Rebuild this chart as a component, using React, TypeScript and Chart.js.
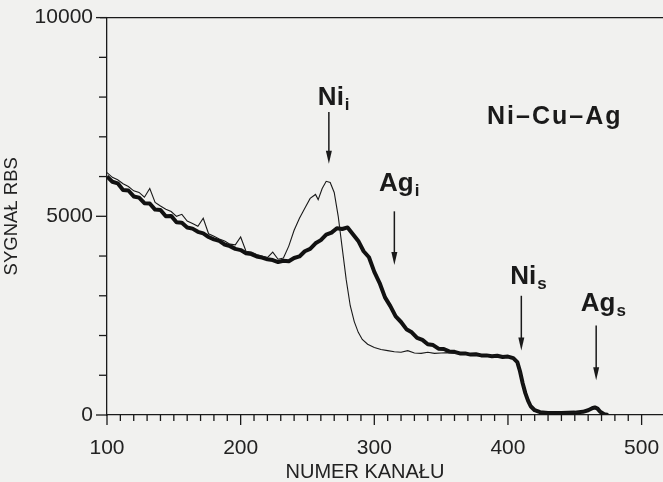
import React, { useEffect, useRef } from 'react';
import { Chart, registerables } from 'chart.js';

Chart.register(...registerables);

// ---- data (channel number -> RBS signal) ----
const thickChannels = [
  100, 104, 108, 112, 116, 120, 124, 128, 132, 136, 140, 144, 148, 152, 156, 160, 164, 168, 172, 176,
  180, 184, 188, 192, 196, 200, 204, 208, 212, 216, 220, 224, 228, 232, 236, 240, 244, 248, 252, 256,
  260, 264, 268, 272, 276, 280, 284, 288, 292, 296, 300, 304, 308, 312, 316, 320, 324, 328, 332, 336,
  340, 344, 348, 352, 356, 360, 364, 368, 372, 376, 380, 384, 388, 392, 396, 400, 404, 407, 409, 411,
  413, 415, 417, 420, 424, 430, 440, 450, 456, 460, 463, 465, 467, 469, 472, 475,
];
const thickValues = [
  6000, 5870, 5830, 5660, 5650, 5500, 5470, 5330, 5320, 5170, 5160, 5000, 5010, 4850, 4840, 4720, 4690, 4610, 4570, 4480,
  4420, 4380, 4290, 4250, 4180, 4150, 4070, 4050, 3990, 3960, 3920, 3900, 3850, 3880, 3870, 3950, 3990, 4120, 4180, 4320,
  4400, 4540, 4590, 4700, 4680, 4720, 4550, 4380, 4120, 3970, 3600, 3320, 2960, 2740, 2480, 2340, 2160, 2080, 1940, 1890,
  1780, 1760, 1670, 1660, 1600, 1590, 1550, 1550, 1520, 1530, 1500, 1500, 1480, 1490, 1460, 1470, 1430, 1330, 1100, 800,
  550, 360, 220, 120, 70, 50, 50, 60, 80, 120, 170, 190, 160, 80, 20, 0,
];

const thinChannels = [
  100, 104, 108, 112, 116, 120, 124, 128, 132, 136, 140, 144, 148, 152, 156, 160, 164, 168, 172, 176,
  180, 184, 188, 192, 196, 200, 204, 208, 212, 216, 220, 224, 228, 232, 236, 240, 244, 248, 252, 256,
  258, 261, 264, 267, 270, 273, 276, 279, 282, 285, 288, 291, 295, 300, 305, 310, 315, 320, 325, 330,
  335, 340, 345, 350, 355, 360, 365, 370, 375, 380, 390, 400,
];
const thinValues = [
  6100, 5980, 5920, 5820, 5750, 5640, 5600, 5480, 5700, 5350, 5260, 5180, 5120, 5000, 5050, 4880, 4820, 4750, 4950, 4560,
  4500, 4430, 4380, 4300, 4280, 4480, 4120, 4100, 4040, 4000, 3960, 4100, 3920, 3950, 4250, 4650, 4950, 5200, 5450, 5550,
  5420, 5700, 5880, 5850, 5600, 5000, 4200, 3400, 2750, 2350, 2080, 1900, 1780, 1700, 1650, 1620, 1590, 1580, 1620, 1560,
  1550, 1580, 1550, 1560, 1570, 1550, 1540, 1530, 1520, 1510, 1490, 1460,
];

const xTickLabels = [100, 200, 300, 400, 500];
const yTickLabels = [0, 5000, 10000];

// peak annotations
const peakNames = ['Ni', 'Ag', 'Ni', 'Ag'];
const peakSubs = ['i', 'i', 's', 's'];
const peakChannels = [266, 315, 410, 466];
const arrowTopValues = [7625, 5125, 3000, 2250];
const arrowTipValues = [6325, 3775, 1625, 875];
const labelBaseValues = [7800, 5625, 3300, 2625];

const sampleTitle = 'Ni–Cu–Ag';
const sampleChannel = 435;
const sampleBaseValue = 7325;

const INK = '#1a1a1a';
const PAPER = '#f1f1ef';
const FONT = '"Liberation Sans", Arial, sans-serif';

const decorPlugin = {
  id: 'decor',
  beforeDraw(chart: any) {
    const { ctx, width, height } = chart;
    ctx.save();
    ctx.fillStyle = PAPER;
    ctx.fillRect(0, 0, width, height);
    ctx.restore();
  },
  afterDraw(chart: any) {
    const { ctx, chartArea } = chart;
    const x = chart.scales.x;
    const y = chart.scales.y;
    ctx.save();
    ctx.strokeStyle = INK;
    ctx.fillStyle = INK;
    ctx.lineWidth = 1.3;

    // top frame line
    ctx.beginPath();
    ctx.moveTo(chartArea.left - 7, chartArea.top);
    ctx.lineTo(chartArea.right, chartArea.top);
    ctx.stroke();

    // x ticks (minor every 10, major every 100)
    x.ticks.forEach((t: any) => {
      if (t.value % 10 !== 0) return;
      const px = x.getPixelForValue(t.value);
      const len = xTickLabels.includes(t.value) ? 10 : 6;
      ctx.beginPath();
      ctx.moveTo(px, chartArea.bottom);
      ctx.lineTo(px, chartArea.bottom + len);
      ctx.stroke();
    });
    // y ticks
    y.ticks.forEach((t: any) => {
      const py = y.getPixelForValue(t.value);
      const len = yTickLabels.includes(t.value) ? 11 : 8;
      ctx.beginPath();
      ctx.moveTo(chartArea.left, py);
      ctx.lineTo(chartArea.left - len, py);
      ctx.stroke();
    });

    // peak labels and arrows
    peakNames.forEach((name, i) => {
      const px = x.getPixelForValue(peakChannels[i]);
      const top = y.getPixelForValue(arrowTopValues[i]);
      const tip = y.getPixelForValue(arrowTipValues[i]);
      const base = y.getPixelForValue(labelBaseValues[i]);
      ctx.lineWidth = 1.5;
      ctx.beginPath();
      ctx.moveTo(px, top);
      ctx.lineTo(px, tip - 8);
      ctx.stroke();
      ctx.beginPath();
      ctx.moveTo(px, tip);
      ctx.lineTo(px - 3, tip - 13);
      ctx.lineTo(px + 3, tip - 13);
      ctx.closePath();
      ctx.fill();

      ctx.font = `bold 26px ${FONT}`;
      ctx.textBaseline = 'alphabetic';
      ctx.textAlign = 'left';
      const w = ctx.measureText(name).width;
      const left = px + 2 - w / 2;
      ctx.fillText(name, left, base);
      ctx.font = `bold 17px ${FONT}`;
      ctx.fillText(peakSubs[i], left + w + 1, base + 5);
    });

    // sample label
    ctx.font = `bold 25px ${FONT}`;
    (ctx as any).letterSpacing = '2px';
    ctx.textAlign = 'center';
    ctx.fillText(sampleTitle, x.getPixelForValue(sampleChannel), y.getPixelForValue(sampleBaseValue));
    (ctx as any).letterSpacing = '0px';

    // x axis title
    ctx.font = `20px ${FONT}`;
    ctx.fillStyle = '#222';
    ctx.textAlign = 'center';
    ctx.textBaseline = 'alphabetic';
    ctx.fillText('NUMER KANAŁU', x.getPixelForValue(293), chart.height - 4);
    ctx.restore();
  },
};

export default function App() {
  const ref = useRef<HTMLCanvasElement | null>(null);

  useEffect(() => {
    if (!ref.current) return;
    const thin = thinChannels.map((c, i) => ({ x: c, y: thinValues[i] }));
    const thinTail = thickChannels
      .map((c, i) => ({ x: c, y: thickValues[i] }))
      .filter((p) => p.x > 400);
    const thick = thickChannels.map((c, i) => ({ x: c, y: thickValues[i] }));

    const chart = new Chart(ref.current, {
      type: 'line',
      data: {
        datasets: [
          {
            label: 'thin',
            data: [...thin, ...thinTail],
            borderColor: INK,
            borderWidth: 1.1,
            pointRadius: 0,
            tension: 0,
          },
          {
            label: 'thick',
            data: thick,
            borderColor: '#111',
            borderWidth: 4,
            borderJoinStyle: 'round',
            pointRadius: 0,
            tension: 0,
          },
        ],
      },
      options: {
        animation: false,
        responsive: false,
        layout: { padding: { top: 15, right: 0, left: 0, bottom: 0 } },
        plugins: { legend: { display: false }, tooltip: { enabled: false } },
        scales: {
          x: {
            type: 'linear',
            min: 100,
            max: 516,
            afterFit: (s: any) => {
              s.height = 67;
              s.paddingRight = 0;
              s.paddingLeft = 0;
            },
            border: { display: true, color: INK, width: 1.3 },
            grid: { display: true, drawOnChartArea: false, drawTicks: true, tickLength: 10, color: 'rgba(0,0,0,0)' },
            ticks: {
              stepSize: 10,
              autoSkip: false,
              maxRotation: 0,
              padding: 11,
              color: '#222',
              font: { family: FONT, size: 21 },
              callback: (v: any) => (xTickLabels.includes(Number(v)) ? String(v) : ''),
            },
          },
          y: {
            min: 0,
            max: 10000,
            afterFit: (s: any) => {
              s.width = 107;
            },
            border: { display: true, color: INK, width: 1.3 },
            grid: { display: true, drawOnChartArea: false, drawTicks: true, tickLength: 9, color: 'rgba(0,0,0,0)' },
            ticks: {
              stepSize: 1000,
              autoSkip: false,
              padding: 5,
              color: '#222',
              font: { family: FONT, size: 21 },
              callback: (v: any) => (yTickLabels.includes(Number(v)) ? String(v) : ''),
            },
            title: {
              display: true,
              text: 'SYGNAŁ RBS',
              color: '#222',
              font: { family: FONT, size: 18.5 },
              padding: { top: 1, bottom: 0 },
            },
          },
        },
      },
      plugins: [decorPlugin],
    });
    return () => chart.destroy();
  }, []);

  return (
    <div style={{ position: 'fixed', left: 0, top: 0, width: 663, height: 482, overflow: 'hidden' }}>
      <canvas ref={ref} width={663} height={482} style={{ display: 'block', width: 663, height: 482 }} />
    </div>
  );
}
